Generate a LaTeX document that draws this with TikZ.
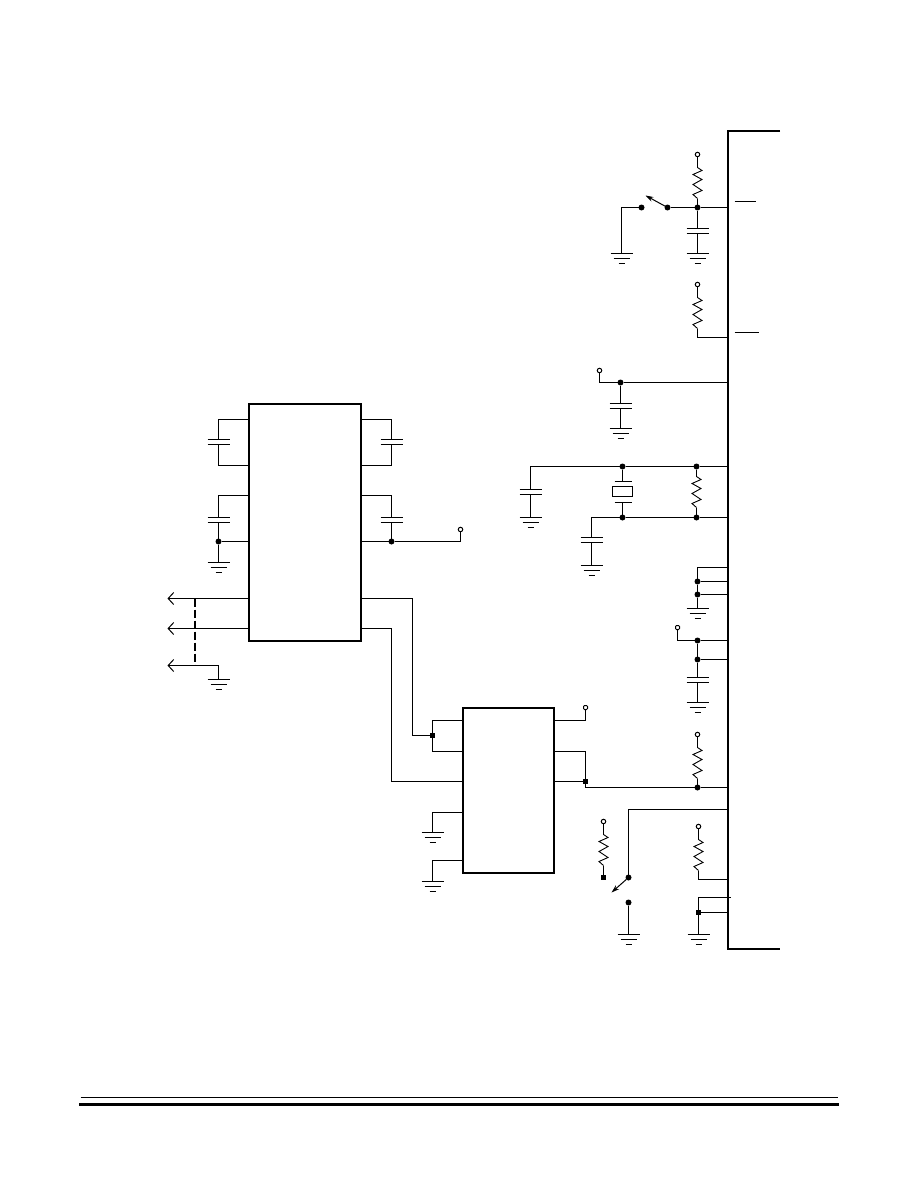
\documentclass[tikz,border=0pt]{standalone}
\usepackage{tkz-euclide}
\usetikzlibrary{arrows.meta}
\tikzset{>={Stealth[length=8pt, width=5pt]},
    wire/.style={line width=1pt},
    bus/.style={line width=2pt},
    chip/.style={draw, line width=2pt, rectangle, inner sep=0pt, outer sep=0pt},
    dot/.style={circle, fill, inner sep=0pt, minimum size=6pt, outer sep=0pt},
    sqdot/.style={rectangle, fill, inner sep=0pt, minimum size=5pt, outer sep=0pt},
    openpin/.style={circle, draw, line width=1pt, inner sep=0pt, minimum size=4.5pt, outer sep=0pt},
    openpad/.style={rectangle, rounded corners=1pt, draw, line width=1pt, inner sep=0pt, minimum size=4pt, outer sep=0pt},
    barb/.style={-{Straight Barb[length=5.5pt, width=12pt]}},
    pics/gndsym/.style={code={
        \draw[wire] (-11,0) -- (11,0) (-8,5) -- (8,5) (-3,10) -- (3,10);}},
    pics/capsym/.style={code={
        \coordinate (-top) at (0,-2.5);
        \coordinate (-bot) at (0,2.5);
        \draw[wire] (-11,-2.5) -- (11,-2.5) (-11,2.5) -- (11,2.5);}},
    pics/ressym/.style={code={
        \coordinate (-top) at (0,0);
        \coordinate (-bot) at (0,31);
        \draw[line width=0.9pt] (-top) -- (4.5,3) -- (-4.5,7) -- (4.5,12) -- (-4.5,17)
            -- (4.5,23) -- (-4.5,27) -- (-bot);}},
}
\begin{document}
\begin{tikzpicture}[x=1pt, y=-1pt]
    \useasboundingbox (0,0) rectangle (918,1188);
    \tkzDefPoints{780/131/busTR, 728/131/busTL, 728/949/busBL, 780/949/busBR}
    \draw[bus] (busTR) -- (busTL) -- (busBL) -- (busBR);
    % chips
    \node[chip, minimum width=112pt, minimum height=237pt] (uone) at (305,522.5) {};
    \node[chip, minimum width=91pt, minimum height=165pt] (utwo) at (508.5,790.5) {};
    % page rule, the thick one
    \tkzDefPoints{79/1104.5/ruleBa, 839/1104.5/ruleBb}
    \draw[line width=3pt] (ruleBa) -- (ruleBb);

    \begin{scope}[shift={(0.5,0.5)}]
    % overbars next to the bus
    \tkzDefPoints{734/201/barAa, 755/201/barAb, 734/332/barBa, 758/332/barBb}
    \draw[wire] (barAa) -- (barAb) (barBa) -- (barBb);

    % reset pull-up, switch and capacitor
    \node[openpin] (rstV) at (697,154) {};
    \pic (resA) at (697,167) {ressym};
    \node[dot] (rstJ) at (697,207) {};
    \node[dot] (swAa) at (667,207) {};
    \node[dot] (swAb) at (641,207) {};
    \pic (capA) at (697,230.5) {capsym};
    \tkzDefPoints{697/253/gndA, 621/253/gndB, 621/207/cnrB, 645/195/tipA}
    \pic at (gndA) {gndsym};
    \pic at (gndB) {gndsym};
    \draw[wire] (rstV) -- (resA-top) (resA-bot) -- (rstJ) -- (rstJ -| busTL);
    \draw[wire] (rstJ) -- (capA-top) (capA-bot) -- (gndA);
    \draw[wire] (rstJ) -- (swAa);
    \draw[wire, ->] (swAa) -- (tipA);
    \draw[wire] (swAb) -- (cnrB) -- (gndB);

    % second pull-up
    \node[openpin] (irqV) at (697,284) {};
    \pic (resB) at (697,297) {ressym};
    \tkzDefPoints{697/337/cnrC}
    \draw[wire] (irqV) -- (resB-top) (resB-bot) -- (cnrC) -- (cnrC -| busTL);

    % supply with decoupling
    \node[openpin] (vccA) at (599,370) {};
    \node[dot] (vccJ) at (620,382) {};
    \pic (capB) at (620,405.5) {capsym};
    \tkzDefPoints{599/382/cnrD, 620/428/gndC}
    \pic at (gndC) {gndsym};
    \draw[wire] (vccA) -- (cnrD) -- (vccJ) -- (vccJ -| busTL);
    \draw[wire] (vccJ) -- (capB-top) (capB-bot) -- (gndC);

    % crystal network
    \node[dot] (xtAa) at (622,466) {};
    \node[dot] (xtAb) at (696,466) {};
    \node[dot] (xtBa) at (622,517) {};
    \node[dot] (xtBb) at (696,517) {};
    \node[draw, wire, inner sep=0pt, minimum width=20pt, minimum height=10pt] (xtal) at (622,491) {};
    \tkzDefPoints{622/481/xtTop, 622/502/xtBot, 614/481/xtTa, 631/481/xtTb, 614/502/xtBl, 631/502/xtBr}
    \tkzDefPoints{530/466/cnrE, 591/517/cnrF, 530/517/gndD, 591/565/gndE}
    \draw[wire] (xtTa) -- (xtTb) (xtBl) -- (xtBr);
    \draw[wire] (xtAa) -- (xtTop) (xtBot) -- (xtBa);
    \pic (resC) at (696,476) {ressym};
    \pic (capC) at (530,491.5) {capsym};
    \pic (capD) at (591,539.5) {capsym};
    \pic at (gndD) {gndsym};
    \pic at (gndE) {gndsym};
    \draw[wire] (capC-top) -- (cnrE) -- (xtAa) -- (xtAb) -- (xtAb -| busTL);
    \draw[wire] (capD-top) -- (cnrF) -- (xtBa) -- (xtBb) -- (xtBb -| busTL);
    \draw[wire] (xtAb) -- (resC-top) (resC-bot) -- (xtBb);
    \draw[wire] (capC-bot) -- (gndD) (capD-bot) -- (gndE);

    % grounded pins
    \tkzDefPoints{697/567/cnrG, 697/608/gndF}
    \node[dot] (gpA) at (697,581) {};
    \node[dot] (gpB) at (697,594) {};
    \pic at (gndF) {gndsym};
    \draw[wire] (cnrG -| busTL) -- (cnrG) -- (gpA) -- (gpB) -- (gndF);
    \draw[wire] (gpA) -- (gpA -| busTL) (gpB) -- (gpB -| busTL);

    % analog supply
    \node[openpad] (vccB) at (677,627) {};
    \node[dot] (avA) at (697,640) {};
    \node[dot] (avB) at (697,659) {};
    \pic (capE) at (697,679.5) {capsym};
    \tkzDefPoints{677/640/cnrH, 697/702/gndG}
    \pic at (gndG) {gndsym};
    \draw[wire] (vccB) -- (cnrH) -- (avA) -- (avA -| busTL);
    \draw[wire] (avA) -- (avB) -- (avB -| busTL);
    \draw[wire] (avB) -- (capE-top) (capE-bot) -- (gndG);

    % charge pump capacitors of the first chip
    \tkzDefPoints{218/419/cfAa, 218/465/cfAb, 218/495/cfBa, 391/419/cfCa, 391/465/cfCb, 391/495/cfDa, 218/562/gndH}
    \pic (capF) at (218,441.5) {capsym};
    \pic (capG) at (218,519.5) {capsym};
    \pic (capH) at (391,441.5) {capsym};
    \pic (capI) at (391,519.5) {capsym};
    \node[dot] (cfBj) at (218,541) {};
    \node[dot] (cfDj) at (391,541) {};
    \pic at (gndH) {gndsym};
    \node[openpin] (vccC) at (460,529) {};
    \tkzDefPoints{460/541/cnrJ}
    \draw[wire] (uone.west |- cfAa) -- (cfAa) -- (capF-top) (capF-bot) -- (cfAb) -- (uone.west |- cfAb);
    \draw[wire] (uone.west |- cfBa) -- (cfBa) -- (capG-top) (capG-bot) -- (cfBj) -- (uone.west |- cfBj);
    \draw[wire] (cfBj) -- (gndH);
    \draw[wire] (uone.east |- cfCa) -- (cfCa) -- (capH-top) (capH-bot) -- (cfCb) -- (uone.east |- cfCb);
    \draw[wire] (uone.east |- cfDa) -- (cfDa) -- (capI-top) (capI-bot) -- (cfDj);
    \draw[wire] (uone.east |- cfDj) -- (cfDj) -- (cnrJ) -- (vccC);

    % line side with three arrows
    \tkzDefPoints{167/598/arA, 167/628/arB, 167/665/arC, 218/665/cnrK, 218/679/gndJ, 194.5/598/shA, 194.5/665/shB}
    \pic at (gndJ) {gndsym};
    \draw[wire, barb] (uone.west |- arA) -- (arA);
    \draw[wire, barb] (uone.west |- arB) -- (arB);
    \draw[wire, barb] (cnrK) -- (arC);
    \draw[wire] (cnrK) -- (gndJ);
    \draw[line width=2pt, dash pattern=on 8pt off 3pt] (shA) -- (shB);

    % between the chips
    \node[sqdot] (sbJ) at (432,735) {};
    \tkzDefPoints{412/598/cnrL, 412/735/cnrM, 391/628/cnrN, 391/781/cnrO}
    \tkzDefPoints{432/720/pnA, 432/751/pnB, 432/812/pnC, 432/860/pnD, 432/832/gndK, 432/881/gndL}
    \draw[wire] (uone.east |- cnrL) -- (cnrL) -- (cnrM) -- (sbJ);
    \draw[wire] (uone.east |- cnrN) -- (cnrN) -- (cnrO) -- (utwo.west |- cnrO);
    \draw[wire] (utwo.west |- pnA) -- (pnA) -- (sbJ) -- (pnB) -- (utwo.west |- pnB);
    \pic at (gndK) {gndsym};
    \pic at (gndL) {gndsym};
    \draw[wire] (utwo.west |- pnC) -- (pnC) -- (gndK);
    \draw[wire] (utwo.west |- pnD) -- (pnD) -- (gndL);

    % right side of the second chip
    \node[openpad] (vccD) at (585,707) {};
    \node[sqdot] (outJ) at (585,781) {};
    \node[dot] (outK) at (697,787) {};
    \node[openpin] (outV) at (697,734) {};
    \pic (resD) at (697,747) {ressym};
    \tkzDefPoints{585/720/cnrP, 585/751/cnrQ, 585/787/cnrR}
    \draw[wire] (utwo.east |- cnrP) -- (cnrP) -- (vccD);
    \draw[wire] (utwo.east |- cnrQ) -- (cnrQ) -- (outJ) -- (utwo.east |- outJ);
    \draw[wire] (outJ) -- (cnrR) -- (outK) -- (outK -| busTL);
    \draw[wire] (outV) -- (resD-top) (resD-bot) -- (outK);

    % mode switch with its pull-up
    \node[openpin] (modV) at (603,821) {};
    \pic (resE) at (603,834) {ressym};
    \node[sqdot] (modP) at (603,877) {};
    \draw[wire] (modV) -- (resE-top) (resE-bot) -- (modP);
    \node[dot] (swBa) at (628,877) {};
    \node[dot] (swBb) at (628,902) {};
    \tkzDefPoints{628/809/cnrS, 628/934/gndM, 611/892/tipB}
    \pic at (gndM) {gndsym};
    \draw[wire] (cnrS -| busTL) -- (cnrS) -- (swBa);
    \draw[wire, ->] (swBa) -- (tipB);
    \draw[wire] (swBb) -- (gndM);

    % last pull-up and strap
    \node[openpin] (lastV) at (698,826) {};
    \pic (resF) at (698,839) {ressym};
    \tkzDefPoints{698/879/cnrT, 698/897/cnrU, 730/897/stubU, 698/934/gndN}
    \node[sqdot] (lastJ) at (698,912) {};
    \pic at (gndN) {gndsym};
    \draw[wire] (lastV) -- (resF-top) (resF-bot) -- (cnrT) -- (cnrT -| busTL);
    \draw[wire] (stubU) -- (cnrU) -- (lastJ) -- (gndN);
    \draw[wire] (lastJ) -- (lastJ -| busTL);

    % page rule, the thin one
    \tkzDefPoints{80/1097/ruleAa, 837/1097/ruleAb}
    \draw[wire] (ruleAa) -- (ruleAb);
    \end{scope}
\end{tikzpicture}
\end{document}
